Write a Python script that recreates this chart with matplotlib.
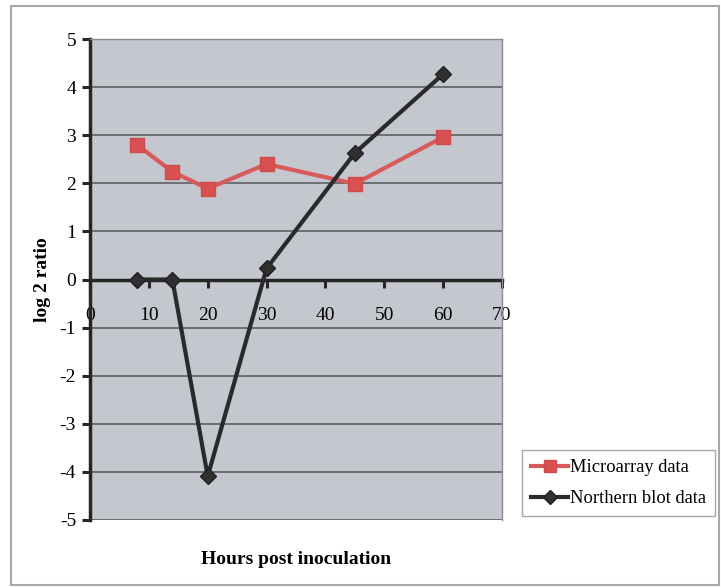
import matplotlib.pyplot as plt
from matplotlib.patches import Rectangle

plt.rcParams["font.family"] = ["Liberation Serif", "DejaVu Serif"]
plt.rcParams["axes.unicode_minus"] = False

hours = [8, 14, 20, 30, 45, 60]
microarray = [2.8, 2.24, 1.89, 2.4, 1.99, 2.96]
northern = [0.0, 0.0, -4.09, 0.23, 2.63, 4.27]

x_ticks = [0, 10, 20, 30, 40, 50, 60, 70]
y_ticks = [-5, -4, -3, -2, -1, 0, 1, 2, 3, 4, 5]

fig = plt.figure(figsize=(7.21, 5.87), dpi=100)
fig.patches.append(Rectangle((11 / 721, 2 / 587), 708 / 721, 579 / 587,
                             transform=fig.transFigure, fill=False,
                             edgecolor="#a8a8a8", lw=1.5))

ax = fig.add_axes([90 / 721, 67 / 587, 412 / 721, 481 / 587])
ax.set_facecolor("#c4c7ce")
ax.set_xlim(0, 70)
ax.set_ylim(-5, 5)

for y in y_ticks:
    ax.axhline(y, color="#55585c", lw=1.1, zorder=1)

ax.plot(hours, microarray, color="#d85a5a", lw=3, marker="s", ms=10,
        mec="#d04848", mfc="#d85050", label="Microarray data", zorder=3)
ax.plot(hours, northern, color="#2a2a2a", lw=3, marker="D", ms=8,
        mec="#202020", mfc="#303030", label="Northern blot data", zorder=4)

# x axis crosses at zero, left spine heavy
ax.spines["bottom"].set_position(("data", 0))
ax.spines["bottom"].set_linewidth(2.5)
ax.spines["bottom"].set_color("#262626")
ax.spines["bottom"].set_zorder(2)
ax.spines["left"].set_linewidth(2.5)
ax.spines["left"].set_color("#262626")
for side in ["top", "right"]:
    ax.spines[side].set_color("#8a8c90")
    ax.spines[side].set_linewidth(1.0)

ax.set_xticks(x_ticks)
ax.set_yticks(y_ticks)
ax.tick_params(axis="x", direction="out", length=6, width=2.2,
               color="#262626", labelsize=14, pad=14)
ax.tick_params(axis="y", direction="out", length=6, width=2.2,
               color="#262626", labelsize=14, pad=4)

ax.set_ylabel("log 2 ratio", fontsize=14, fontweight="bold", labelpad=6)
fig.text(296 / 721, 1 - 560 / 587, "Hours post inoculation", fontsize=14,
         fontweight="bold", ha="center", va="center")

leg = fig.legend(loc="upper left", bbox_to_anchor=(522 / 721, 1 - 450 / 587),
                 fontsize=13.3, frameon=True, fancybox=False, handlelength=2.0,
                 handletextpad=0.1, borderpad=0.5, labelspacing=0.75,
                 borderaxespad=0, markerscale=0.85)
leg.get_frame().set_edgecolor("#909090")
leg.get_frame().set_linewidth(1.0)

fig.savefig("out.png", dpi=100)
